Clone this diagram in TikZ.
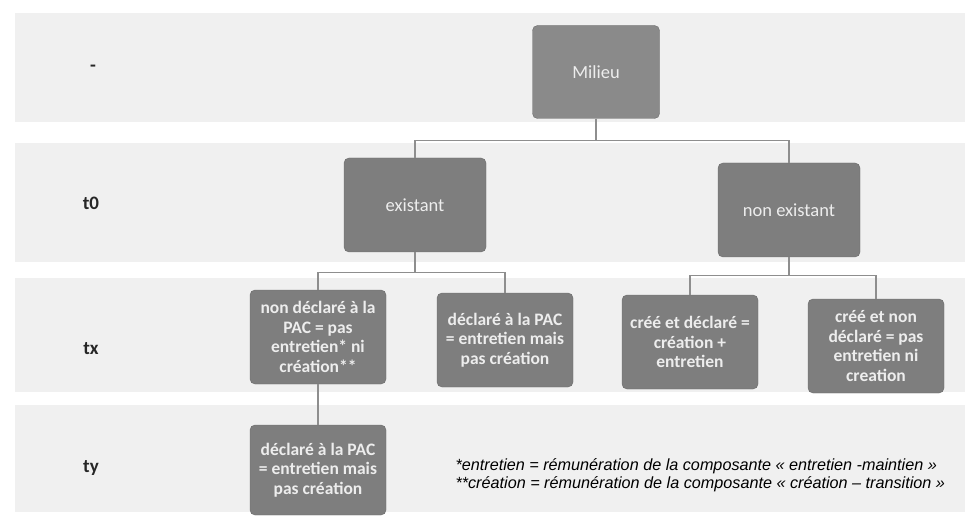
\documentclass[tikz,border=0pt]{standalone}
\usepackage{fontspec}
\setmainfont{Carlito}
\newfontfamily\notefont{Liberation Sans}
\usetikzlibrary{positioning,backgrounds}

\definecolor{boxfill}{HTML}{7E7E7E}
\definecolor{topfill}{HTML}{8A8A8A}
\definecolor{boxtext}{HTML}{EDEDED}
\definecolor{linegray}{HTML}{8E8E8E}
\definecolor{bandgray}{HTML}{F0F0F0}

\tikzset{
  box/.style={fill=boxfill, draw=boxfill!85!black, rounded corners=5pt, text=boxtext,
    align=center, minimum width=136pt, minimum height=94pt, inner sep=2pt,
    font=\fontsize{18.5}{19.5}\selectfont},
  lowbox/.style={box, font=\bfseries\fontsize{17.5}{19.5}\selectfont},
  link/.style={draw=linegray, line width=1.1pt},
  band/.style={fill=bandgray, draw=none},
  rowlabel/.style={font=\bfseries\fontsize{19}{21}\selectfont, text=black!85},
  footnote/.style={font=\notefont\itshape\fontsize{16.2}{17.5}\selectfont, align=left, anchor=west},
}

\begin{document}
\begin{tikzpicture}[x=1pt, y=-1pt]
  \useasboundingbox (0,0) rectangle (965,518);
  \fill[white] (0,0) rectangle (965,518);

  % grey bands behind the rows
  \foreach \top/\bot in {13/122, 143/262, 278/392, 405/512} {
    \fill[band] (15,\top) rectangle (965,\bot);
  }

  % row labels
  \node[rowlabel] (dash) at (93,68) {-};
  \foreach \name/\txt/\ypos in {lzero/t0/203, lx/tx/349, ly/ty/468} {
    \node[rowlabel] (\name) at (91,\ypos) {\txt};
  }

  % tree
  \node[box, fill=topfill, minimum width=127pt, minimum height=93pt] (milieu) at (596,72) {Milieu};
  \node[box, minimum width=142pt] (exist) at (415,205) {existant};
  \node[box, minimum width=142pt] (nonexist) at (789,210) {non existant};

  \node[lowbox] (nondecl) at (318,337) {non déclaré à la\\PAC = pas\\entretien* ni\\création**};
  \node[lowbox] (decl) at (505,340) {déclaré à la PAC\\= entretien mais\\pas création};
  \node[lowbox] (creedecl) at (690,342) {créé et déclaré =\\création +\\entretien};
  \node[lowbox] (creenon) at (876,346) {créé et non\\déclaré = pas\\entretien ni\\creation};

  \node[lowbox, minimum height=90pt] (decly) at (318,470) {déclaré à la PAC\\= entretien mais\\pas création};

  % connectors
  \draw[link] (milieu.south) -- ++(0,22) -| (exist.north);
  \draw[link] (milieu.south) -- ++(0,22) -| (nonexist.north);
  \draw[link] (exist.south) -- ++(0,20) -| (nondecl.north);
  \draw[link] (exist.south) -- ++(0,20) -| (decl.north);
  \draw[link] (nonexist.south) -- ++(0,18) -| (creedecl.north);
  \draw[link] (nonexist.south) -- ++(0,18) -| (creenon.north);
  \draw[link] (nondecl.south) -- (decly.north);

  % footnotes
  \node[footnote] (note) at (452,475) {*entretien = rémunération de la composante « entretien -maintien »\\**création = rémunération de la composante « création – transition »};
\end{tikzpicture}
\end{document}
